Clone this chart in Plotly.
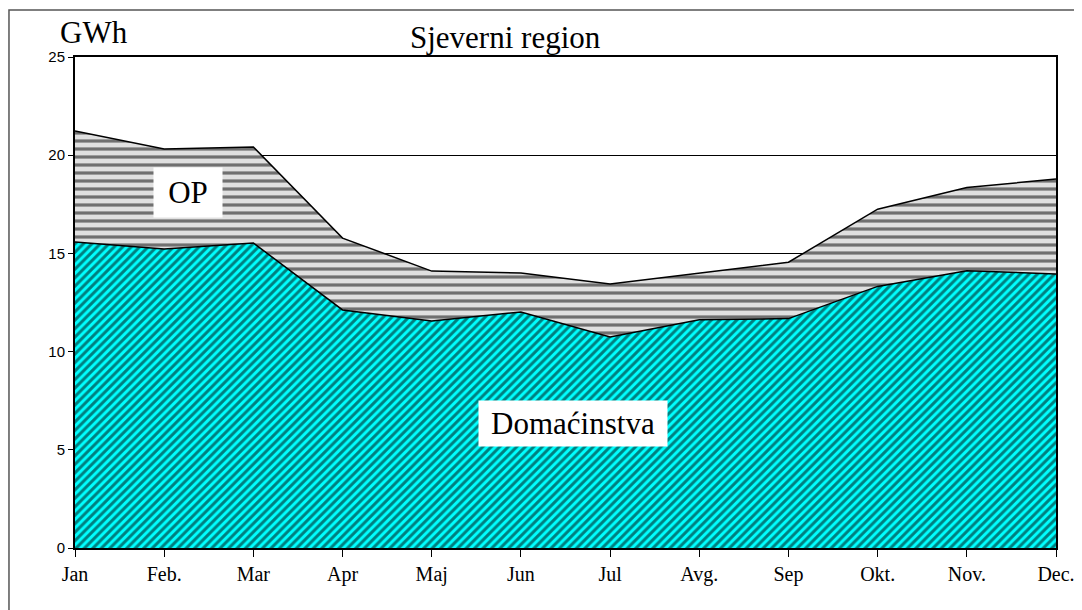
import plotly.graph_objects as go

months = ["Jan", "Feb.", "Mar", "Apr", "Maj", "Jun", "Jul", "Avg.", "Sep", "Okt.", "Nov.", "Dec."]
domacinstva = [15.58, 15.22, 15.53, 12.12, 11.56, 12.02, 10.74, 11.62, 11.68, 13.32, 14.12, 13.95]
ukupno = [21.23, 20.32, 20.42, 15.78, 14.10, 14.00, 13.44, 14.00, 14.55, 17.25, 18.35, 18.79]
op = [round(t - d, 2) for t, d in zip(ukupno, domacinstva)]
y_ticks = [0, 5, 10, 15, 20, 25]

x = list(range(len(months)))

fig = go.Figure()
fig.add_trace(go.Scatter(
    x=x, y=domacinstva, name="Domaćinstva", stackgroup="one", mode="lines",
    line=dict(color="black", width=1.5),
    fillcolor="#00FFFF",
    fillpattern=dict(shape="/", bgcolor="#00FFFF", fgcolor="black", size=6, solidity=0.5),
))
fig.add_trace(go.Scatter(
    x=x, y=op, name="OP", stackgroup="one", mode="lines",
    line=dict(color="black", width=1.5),
    fillcolor="#E0E0E0",
    fillpattern=dict(shape="-", bgcolor="#E0E0E0", fgcolor="black", size=8, solidity=0.4),
))

serif = "Liberation Serif"

fig.update_layout(
    width=1082, height=610,
    margin=dict(l=67, r=34, t=49, b=70),
    paper_bgcolor="white", plot_bgcolor="white",
    showlegend=False,
    xaxis=dict(
        range=[0, 11], tickmode="array", tickvals=x, ticktext=months,
        showgrid=False, zeroline=False,
        showline=True, linecolor="black", linewidth=2, mirror=True,
        ticks="outside", ticklen=7, tickcolor="black", tickwidth=1,
        tickfont=dict(family=serif, size=20, color="black"),
    ),
    yaxis=dict(
        range=[0, 25], tickmode="array", tickvals=y_ticks,
        showgrid=True, gridcolor="black", gridwidth=1, zeroline=False,
        showline=True, linecolor="black", linewidth=2, mirror=True,
        ticks="outside", ticklen=5, tickcolor="black", tickwidth=1,
        tickfont=dict(family="Liberation Sans", size=15, color="black"),
    ),
    shapes=[dict(type="rect", xref="paper", yref="paper",
                 x0=-0.0673, x1=1.1, y0=-0.2, y1=1.0957,
                 line=dict(color="#555555", width=1.5), layer="below")],
    annotations=[
        dict(text="Sjeverni region", xref="paper", yref="paper", x=0.439, y=1.0407,
             xanchor="center", yanchor="middle", showarrow=False,
             font=dict(family=serif, size=31, color="black")),
        dict(text="GWh", xref="paper", yref="paper", x=-0.017, y=1.05,
             xanchor="left", yanchor="middle", showarrow=False,
             font=dict(family=serif, size=31, color="black")),
        dict(text="OP", xref="x", yref="y", x=1.267, y=18.1,
             xanchor="center", yanchor="middle", showarrow=False,
             bgcolor="white", borderpad=4, width=60, height=41,
             font=dict(family=serif, size=31, color="black")),
        dict(text="Domaćinstva", xref="x", yref="y", x=5.584, y=6.34,
             xanchor="center", yanchor="middle", showarrow=False,
             bgcolor="white", borderpad=4, width=180, height=37,
             font=dict(family=serif, size=31, color="black")),
    ],
)

fig.write_html("out.html")
